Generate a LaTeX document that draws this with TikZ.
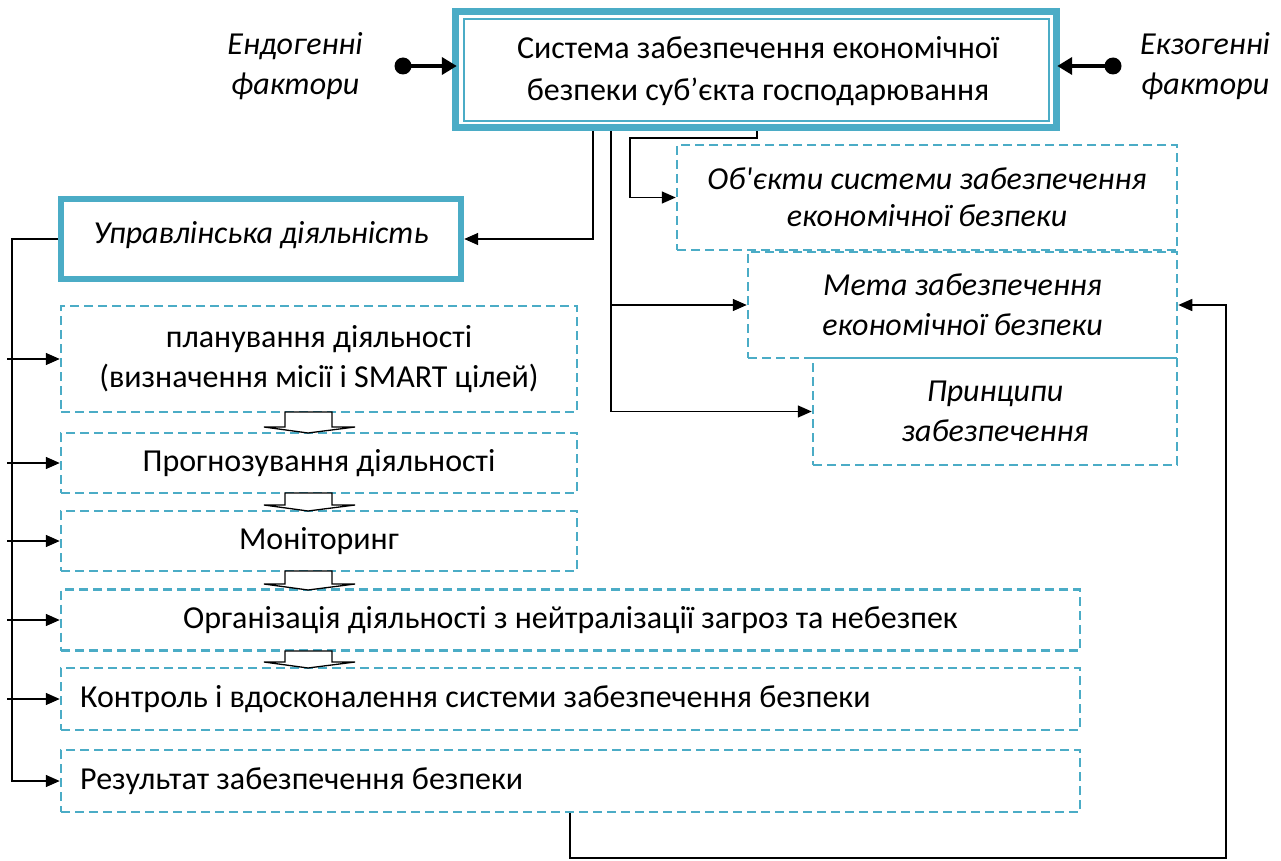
\documentclass[tikz,border=0pt]{standalone}
\usepackage{fontspec}
\setmainfont{Carlito}
\newfontfamily\rawfont{Carlito}[Ligatures=TeXOff]
\usetikzlibrary{arrows.meta,calc}
\definecolor{tealc}{HTML}{4BACC6}
\newcommand\BlkArr[2]{% #1 = top y, #2 = tip y
  \draw[black,line width=1.3,fill=white,line join=miter] (285,#1) -- (285,#2-6) -- (264,#2-6) -- (308,#2) -- (355,#2-6) -- (332,#2-6) -- (332,#1) -- cycle;}
\begin{document}
\begin{tikzpicture}[x=1pt,y=-1pt,
  txt/.style={font=\fontsize{32}{40}\selectfont,align=center,inner sep=0pt},
  dbox/.style={draw=tealc,line width=2.5,dash pattern=on 9pt off 5pt,inner sep=0pt,font=\fontsize{32}{40}\selectfont,align=center},
  arr/.style={line width=1.5,-{Triangle[length=14pt,width=12pt]}},
  fat/.style={line width=4,-{Triangle[length=15pt,width=17pt]}}]
\useasboundingbox[fill=white] (0,0) rectangle (1281,861);

% main box
\node[minimum width=608pt,minimum height=123pt,inner sep=0pt] (main) at (756,69.5) {};
\draw[tealc,line width=7] ([shift={(3.5,3.5)}]main.north west) rectangle ([shift={(-3.5,-3.5)}]main.south east);
\draw[tealc,line width=1.6] ([shift={(12,11)}]main.north west) rectangle ([shift={(-11,-10)}]main.south east);
\node[txt,font=\fontsize{32}{42}\selectfont] (maint) at (758,71) {Система забезпечення економічної\\безпеки суб’єкта господарювання};

% factors
\node[txt,font=\fontsize{32}{40}\selectfont\itshape] (endo) at (295,66) {Ендогенні\\фактори};
\node[txt,font=\fontsize{32}{40}\selectfont\itshape] (exo) at (1205,66) {Екзогенні\\фактори};
\coordinate (endoDot) at (403,66);
\coordinate (exoDot) at (1113,66);
\fill (endoDot) circle (8.5);
\fill (exoDot) circle (8.5);
\draw[fat] (endoDot) -- ([xshift=5pt]endoDot -| main.west);
\draw[fat] (exoDot) -- ([xshift=-3pt]exoDot -| main.east);

% management box
\node[minimum width=406pt,minimum height=86pt,inner sep=0pt] (upr) at (261,239) {};
\draw[tealc,line width=6] ([shift={(3,3)}]upr.north west) rectangle ([shift={(-3,-3)}]upr.south east);
\node[txt,font=\fontsize{32}{40}\selectfont\itshape] at (261,235) {Управлінська діяльність};

% right dashed boxes
\node[dbox,minimum width=500pt,minimum height=105pt,font=\fontsize{32}{37}\selectfont\itshape] (obj) at (927,197.5) {Об{\rawfont\itshape '}єкти системи забезпечення\\економічної безпеки};
\node[dbox,minimum width=429pt,minimum height=106pt,font=\fontsize{32}{40}\selectfont\itshape] (meta) at (962.5,305) {Мета забезпечення\\економічної безпеки};
\node[dbox,minimum width=364pt,minimum height=107pt,font=\fontsize{32}{40}\selectfont\itshape] (princ) at (995,411.5) {Принципи\\забезпечення};

% left dashed boxes
\node[dbox,minimum width=516pt,minimum height=106pt] (plan) at (319,359) {планування діяльності\\(визначення місії і SMART цілей)};
\node[dbox,minimum width=516pt,minimum height=60pt] (prog) at (319,463) {Прогнозування діяльності};
\node[dbox,minimum width=516pt,minimum height=60pt] (mon) at (319,541) {Моніторинг};
\node[dbox,minimum width=1019pt,minimum height=61pt] (org) at (570.5,620) {Організація діяльності з нейтралізації загроз та небезпек};
\node[dbox,minimum width=1019pt,minimum height=62pt] (ctrl) at (570.5,699) {};
\node[txt,anchor=west] at (80,699) {Контроль і вдосконалення системи забезпечення безпеки};
\node[dbox,minimum width=1019pt,minimum height=62pt] (res) at (570.5,781) {};
\node[txt,anchor=west] at (80,781) {Результат забезпечення безпеки};

% block arrows
\BlkArr{412}{433}
\BlkArr{493}{511}
\BlkArr{571}{590}
\BlkArr{651}{668}

% connectors from main box
\coordinate (c1) at (593,0);
\coordinate (c2) at (611,0);
\coordinate (c3) at (757,0);
\coordinate (k3) at (630,138);
\draw[arr] (main.south -| c1) |- (upr.east);
\draw[arr] (main.south -| c2) |- (meta.west);
\draw[arr] (main.south -| c2) |- (princ.west);
\draw[arr] (main.south -| c3) |- (k3) |- (obj.west);

% left bus
\coordinate (bus) at (12,0);
\coordinate (busL) at (7,0);
\draw[arr] (upr.west) -| (bus |- res.west) -- (res.west);
\draw[arr] (busL |- plan.west) -- (plan.west);
\draw[arr] (busL |- prog.west) -- (prog.west);
\draw[arr] (busL |- mon.west) -- (mon.west);
\draw[arr] (busL |- org.west) -- (org.west);
\draw[arr] (busL |- ctrl.west) -- (ctrl.west);

% feedback
\coordinate (fbx) at (570,858);
\coordinate (fb) at (1226,858);
\draw[arr] (res.south -| fbx) |- (fb) |- (meta.east);
\end{tikzpicture}
\end{document}
